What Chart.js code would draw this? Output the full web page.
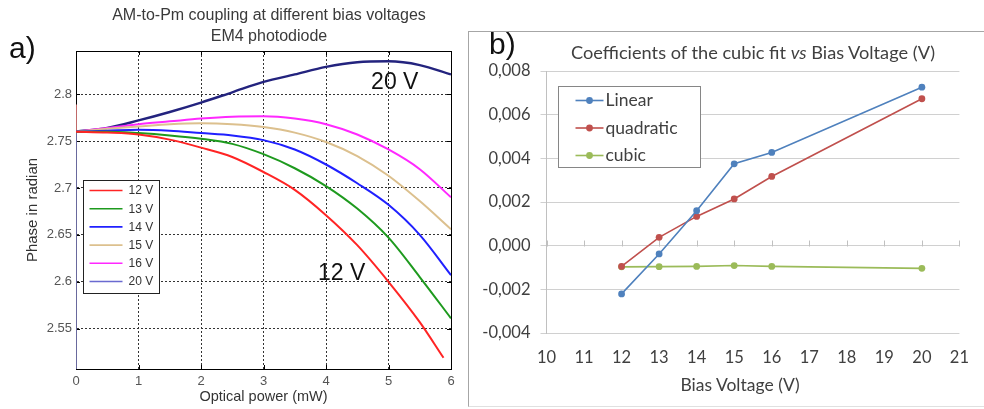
<!DOCTYPE html>
<html><head><meta charset="utf-8">
<script src="https://cdn.jsdelivr.net/npm/chart.js@4.4.0/dist/chart.umd.min.js"></script>
<style>
html,body{margin:0;padding:0;background:#fff;width:984px;height:409px;overflow:hidden;position:relative;}
#frameB{position:absolute;left:468px;top:31px;width:600px;height:376px;box-sizing:border-box;border-top:1px solid #a6a6a6;border-left:1px solid #a6a6a6;border-bottom:1px solid #e0e0e0;background:#fff;}
#cA{position:absolute;left:0;top:0;}
#cB{position:absolute;left:468px;top:31px;}
.t{position:absolute;white-space:nowrap;}
#titleA{left:69px;top:5px;width:400px;text-align:center;font:16px "Liberation Sans",Arial,sans-serif;line-height:20.5px;color:#3a3a3a;}
#labA{left:9px;top:30px;font:30px "Liberation Sans",Arial,sans-serif;line-height:36px;color:#111;}
#labB{left:489px;top:26px;font:30px "Liberation Sans",Arial,sans-serif;line-height:36px;color:#111;}
#titleB{left:553px;top:40px;width:400px;text-align:center;font:18.2px Lato,sans-serif;line-height:24px;color:#404040;}
#xtitleB{left:640px;top:373px;width:200px;text-align:center;font:17.5px Lato,sans-serif;line-height:24px;color:#404040;}
</style></head>
<body>
<canvas id="cA" width="470" height="409"></canvas>
<div id="frameB"></div>
<canvas id="cB" width="516" height="376"></canvas>
<div class="t" id="titleA">AM-to-Pm coupling at different bias voltages<br>EM4 photodiode</div>
<div class="t" id="labA">a)</div>
<div class="t" id="labB">b)</div>
<div class="t" id="titleB">Coefficients of the cubic fit <i>vs</i> Bias Voltage (V)</div>
<div class="t" id="xtitleB">Bias Voltage (V)</div>
<script>
// ---------- Panel a) data ----------
const xPower   = [0, 0.5, 1, 1.5, 2, 2.5, 3, 3.5, 4, 4.5, 5, 5.5, 6];
const xPower12 = [0, 0.5, 1, 1.5, 2, 2.5, 3, 3.5, 4, 4.5, 5, 5.5, 5.88];
const phase12V = [2.760, 2.759, 2.757, 2.7515, 2.743, 2.733, 2.717, 2.698, 2.671, 2.639, 2.600, 2.557, 2.519];
const phase13V = [2.760, 2.760, 2.7585, 2.756, 2.7525, 2.747, 2.736, 2.721, 2.702, 2.678, 2.647, 2.605, 2.561];
const phase14V = [2.760, 2.761, 2.762, 2.761, 2.7585, 2.756, 2.751, 2.741, 2.725, 2.705, 2.682, 2.650, 2.607];
const phase15V = [2.760, 2.763, 2.7655, 2.768, 2.769, 2.768, 2.765, 2.759, 2.749, 2.734, 2.713, 2.686, 2.656];
const phase16V = [2.760, 2.764, 2.768, 2.771, 2.774, 2.776, 2.7765, 2.774, 2.768, 2.757, 2.741, 2.720, 2.690];
const phase20V = [2.760, 2.764, 2.772, 2.781, 2.791, 2.802, 2.813, 2.821, 2.829, 2.834, 2.835, 2.831, 2.821];
const spikeX   = [0, 0];
const spike12V = [2.789, 2.760];
const spike20V = [2.400, 2.760];
const seriesLabelsA = ['12 V', '13 V', '14 V', '15 V', '16 V', '20 V'];
const xTicksA = [0, 1, 2, 3, 4, 5, 6];
const yTicksA = [2.55, 2.6, 2.65, 2.7, 2.75, 2.8];

// ---------- Panel b) data ----------
const biasV       = [12, 13, 14, 15, 16, 20];
const coefLinear  = [-0.00221, -0.00038, 0.00160, 0.00375, 0.00427, 0.00726];
const coefQuad    = [-0.00095, 0.00038, 0.00134, 0.00214, 0.00317, 0.00673];
const coefCubic   = [-0.00097, -0.00096, -0.00095, -0.00091, -0.00095, -0.00104];
const seriesLabelsB = ['Linear', 'quadratic', 'cubic'];
const xTicksB = [10, 11, 12, 13, 14, 15, 16, 17, 18, 19, 20, 21];
const yTicksB = [-0.004, -0.002, 0, 0.002, 0.004, 0.006, 0.008];

const pts = (xs, ys) => xs.map((x, i) => ({x: x, y: ys[i]}));

const colorsA = ['#ff2424', '#1e9a1e', '#2020ff', '#dcc08e', '#ff28ff', '#23237e'];
const legendColorsA = ['#ff2424', '#1e9a1e', '#2020ff', '#dcc08e', '#ff28ff', '#6a6ad0'];
const seriesA = [phase12V, phase13V, phase14V, phase15V, phase16V, phase20V];

const dsA = seriesA.map((ys, i) => ({
  label: seriesLabelsA[i],
  data: pts(i === 0 ? xPower12 : xPower, ys),
  borderColor: colorsA[i],
  borderWidth: i === 5 ? 2.4 : 2,
  pointRadius: 0,
  cubicInterpolationMode: 'monotone',
  fill: false
}));
dsA.push({label: 'spike12', data: pts(spikeX, spike12V), borderColor: '#ff8c8c', borderWidth: 1.5, pointRadius: 0, clip: 0, tension: 0});
dsA.push({label: 'spike20', data: pts(spikeX, spike20V), borderColor: '#8c8cd2', borderWidth: 1.5, pointRadius: 0, clip: 0, tension: 0});

const fontA = {family: '"Liberation Sans", Arial, sans-serif'};

const pluginA = {
  id: 'pA',
  beforeDatasetsDraw(chart) {
    const {ctx, chartArea: a} = chart;
    ctx.save();
    ctx.strokeStyle = '#000';
    ctx.lineWidth = 1;
    ctx.strokeRect(Math.round(a.left) + 0.5, Math.round(a.top) + 0.5, Math.round(a.right - a.left), Math.round(a.bottom - a.top));
    const xs = chart.scales.x, ys = chart.scales.y;
    ctx.beginPath();
    xTicksA.forEach(v => { const px = Math.round(xs.getPixelForValue(v)) + 0.5;
      ctx.moveTo(px, a.bottom); ctx.lineTo(px, a.bottom - 4); ctx.moveTo(px, a.top); ctx.lineTo(px, a.top + 4); });
    yTicksA.forEach(v => { const py = Math.round(ys.getPixelForValue(v)) + 0.5;
      ctx.moveTo(a.left, py); ctx.lineTo(a.left + 4, py); ctx.moveTo(a.right, py); ctx.lineTo(a.right - 4, py); });
    ctx.stroke();
    ctx.restore();
  },
  afterDatasetsDraw(chart) {
    const {ctx, chartArea: a} = chart;
    const xs = chart.scales.x, ys = chart.scales.y;
    ctx.save();
    ctx.fillStyle = '#111';
    ctx.font = '23px "Liberation Sans", Arial, sans-serif';
    ctx.textAlign = 'center';
    ctx.textBaseline = 'middle';
    ctx.fillText(seriesLabelsA[5], xs.getPixelForValue(5.1), ys.getPixelForValue(2.812));
    ctx.fillText(seriesLabelsA[0], xs.getPixelForValue(4.25), ys.getPixelForValue(2.609));
    const lx = Math.round(a.left) + 7.5, ly = Math.round(a.bottom) - 188.5, lw = 76, lh = 113;
    ctx.fillStyle = '#fff';
    ctx.fillRect(lx, ly, lw, lh);
    ctx.strokeStyle = '#222';
    ctx.lineWidth = 1;
    ctx.strokeRect(lx, ly, lw, lh);
    ctx.font = '12px "Liberation Sans", Arial, sans-serif';
    ctx.textAlign = 'left';
    seriesLabelsA.forEach((lab, i) => {
      const y = ly + 10 + i * 18.2;
      ctx.strokeStyle = legendColorsA[i];
      ctx.lineWidth = 1.6;
      ctx.beginPath(); ctx.moveTo(lx + 6, y); ctx.lineTo(lx + 39, y); ctx.stroke();
      ctx.fillStyle = '#333';
      ctx.fillText(lab, lx + 45, y + 0.5);
    });
    ctx.restore();
  }
};

new Chart(document.getElementById('cA'), {
  type: 'line',
  data: {datasets: dsA},
  options: {
    responsive: false, animation: false, devicePixelRatio: 1,
    layout: {padding: {top: 51, right: 19, bottom: 0, left: 0}},
    plugins: {legend: {display: false}, tooltip: {enabled: false}},
    scales: {
      x: {
        type: 'linear', min: 0, max: 6,
        afterBuildTicks: s => { s.ticks = xTicksA.map(v => ({value: v})); },
        afterFit: s => { s.height = 40; },
        ticks: {padding: 5, color: '#555', font: {...fontA, size: 13}},
        grid: {color: '#333', lineWidth: 1, drawTicks: false},
        border: {color: '#000', dash: [2, 2]},
        title: {display: true, text: 'Optical power (mW)', color: '#333', font: {...fontA, size: 14.5}, padding: {top: 0, bottom: 3}}
      },
      y: {
        type: 'linear', min: 2.507, max: 2.846,
        afterBuildTicks: s => { s.ticks = yTicksA.map(v => ({value: v})); },
        afterFit: s => { s.width = 76; },
        ticks: {padding: 4, color: '#555', font: {...fontA, size: 13}, callback: v => String(v)},
        grid: {color: '#333', lineWidth: 1, drawTicks: false},
        border: {color: '#000', dash: [2, 2]},
        title: {display: true, text: 'Phase in radian', color: '#333', font: {...fontA, size: 15}, padding: {top: 23.5, bottom: 0}}
      }
    }
  },
  plugins: [pluginA]
});

// ---------- Panel b) ----------
const colorsB = ['#4f81bd', '#c0504d', '#9bbb59'];
const seriesB = [coefLinear, coefQuad, coefCubic];
const dsB = seriesB.map((ys, i) => ({
  label: seriesLabelsB[i],
  data: pts(biasV, ys),
  borderColor: colorsB[i],
  backgroundColor: colorsB[i],
  borderWidth: 1.6,
  pointRadius: 3.4,
  pointBorderWidth: 0,
  tension: 0,
  fill: false
}));

const pluginB = {
  id: 'pB',
  beforeDatasetsDraw(chart) {
    const {ctx} = chart;
    const xs = chart.scales.x, ys = chart.scales.y;
    const y0 = Math.round(ys.getPixelForValue(0)) + 0.5;
    ctx.save();
    ctx.strokeStyle = '#c0c0c0';
    ctx.lineWidth = 1;
    ctx.beginPath();
    xTicksB.forEach(v => { const px = Math.round(xs.getPixelForValue(v)) + 0.5; ctx.moveTo(px, y0); ctx.lineTo(px, y0 - 6); });
    ctx.stroke();
    ctx.restore();
  },
  afterDatasetsDraw(chart) {
    const {ctx, chartArea: a} = chart;
    ctx.save();
    const lx = Math.round(a.left) + 11.5, ly = Math.round(a.top) + 15.5, lw = 142, lh = 81;
    ctx.fillStyle = '#fff';
    ctx.fillRect(lx, ly, lw, lh);
    ctx.strokeStyle = '#868686';
    ctx.lineWidth = 1;
    ctx.strokeRect(lx, ly, lw, lh);
    ctx.font = '17.5px Lato, sans-serif';
    ctx.textAlign = 'left';
    ctx.textBaseline = 'middle';
    seriesLabelsB.forEach((lab, i) => {
      const y = ly + 14 + i * 27.5;
      ctx.strokeStyle = colorsB[i];
      ctx.lineWidth = 1.6;
      ctx.beginPath(); ctx.moveTo(lx + 17, y); ctx.lineTo(lx + 45, y); ctx.stroke();
      ctx.fillStyle = colorsB[i];
      ctx.beginPath(); ctx.arc(lx + 31, y, 3.4, 0, Math.PI * 2); ctx.fill();
      ctx.fillStyle = '#404040';
      ctx.fillText(lab, lx + 47, y);
    });
    ctx.restore();
  }
};

new Chart(document.getElementById('cB'), {
  type: 'line',
  data: {datasets: dsB},
  options: {
    responsive: false, animation: false, devicePixelRatio: 1,
    layout: {padding: {top: 40, right: 9, bottom: 0, left: 0}},
    plugins: {legend: {display: false}, tooltip: {enabled: false}},
    scales: {
      x: {
        type: 'linear', min: 10, max: 21,
        afterBuildTicks: s => { s.ticks = xTicksB.map(v => ({value: v})); },
        afterFit: s => { s.height = 74; },
        ticks: {padding: 15, color: '#404040', font: {family: 'Lato', size: 16.5}},
        grid: {display: false, drawTicks: false},
        border: {display: false}
      },
      y: {
        type: 'linear', min: -0.004, max: 0.008,
        afterBuildTicks: s => { s.ticks = yTicksB.map(v => ({value: v})); },
        afterFit: s => { s.width = 78.5; },
        ticks: {padding: 10, color: '#404040', font: {family: 'Lato', size: 16.5},
                callback: v => v.toFixed(3).replace('.', ',')},
        grid: {color: '#d0d0d0', lineWidth: 1, tickLength: 6},
        border: {color: '#c0c0c0'}
      }
    }
  },
  plugins: [pluginB]
});
</script>
</body></html>
